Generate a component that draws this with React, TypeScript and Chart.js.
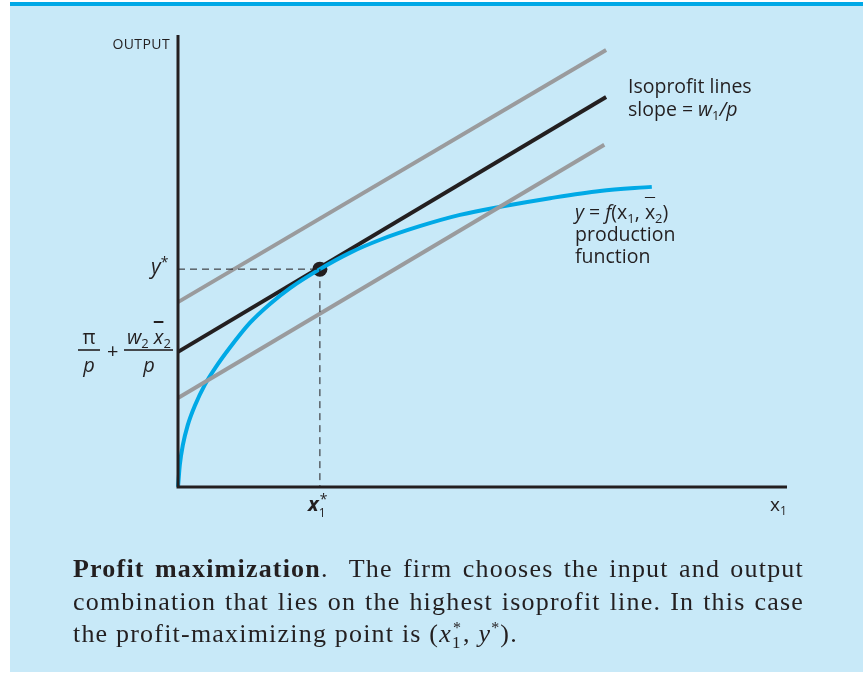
import React, { useEffect, useRef } from "react";
import { Chart, registerables } from "chart.js";
Chart.register(...registerables);

// Production function y = f(x1, x2bar) (arbitrary units 0..100)
const curveX = [0, 0.3, 0.8, 1.6, 2.8, 4.4, 6.1, 8.5, 11.8, 15.1, 18.4, 23.3, 28.2, 33.2, 39.7, 46.3, 52.9, 61.1, 69.3, 77.8];
const curveY = [0, 4.9, 9.3, 13.7, 18.1, 22.6, 26.3, 30.8, 36.3, 40.5, 44.0, 48.2, 51.8, 54.7, 57.7, 60.2, 62.0, 63.9, 65.5, 66.4];

// Isoprofit lines (start and end x, and y at those x)
const isoX = [0, 70.3];
const lowerIsoX = [0, 70.0];
const upperIsoY = [40.9, 96.7];
const middleIsoY = [29.9, 86.3];
const lowerIsoY = [19.7, 75.7];

// Optimum (x1*, y*)
const optimumX = [23.3];
const optimumY = [48.2];

const X_MAX = 100;
const Y_MAX = 100;

const INK = "#231f20";
const GRAY = "#9a9b9d";
const BLUE = "#00a9e6";

const pts = (xs: number[], ys: number[]) => xs.map((x, i) => ({ x, y: ys[i] }));

const axesPlugin = {
  id: "axesLines",
  afterDatasetsDraw(chart: any) {
    const { ctx, scales } = chart;
    const x0 = scales.x.getPixelForValue(0);
    const x1 = scales.x.getPixelForValue(X_MAX);
    const y0 = scales.y.getPixelForValue(0);
    const y1 = scales.y.getPixelForValue(Y_MAX);
    ctx.save();
    ctx.strokeStyle = INK;
    ctx.lineWidth = 3;
    ctx.beginPath();
    ctx.moveTo(x0, y1);
    ctx.lineTo(x0, y0 + 1.5);
    ctx.moveTo(x0 - 1.5, y0);
    ctx.lineTo(x1, y0);
    ctx.stroke();
    ctx.restore();
  },
};

function ChartCanvas() {
  const ref = useRef<HTMLCanvasElement | null>(null);
  useEffect(() => {
    if (!ref.current) return;
    const lineDs = (data: any[], color: string, width: number, extra: any = {}) => ({
      data,
      showLine: true,
      borderColor: color,
      backgroundColor: color,
      borderWidth: width,
      pointRadius: 0,
      fill: false,
      clip: false,
      ...extra,
    });
    const chart = new Chart(ref.current, {
      type: "scatter",
      data: {
        datasets: [
          lineDs([{ x: 0, y: optimumY[0] }, { x: optimumX[0], y: optimumY[0] }], INK, 1, { borderDash: [7, 5] }),
          lineDs([{ x: optimumX[0], y: optimumY[0] }, { x: optimumX[0], y: 0 }], INK, 1, { borderDash: [7, 5] }),
          lineDs(pts(isoX, upperIsoY), GRAY, 4),
          lineDs(pts(lowerIsoX, lowerIsoY), GRAY, 4),
          lineDs(pts(curveX, curveY), BLUE, 4, { cubicInterpolationMode: "monotone" }),
          lineDs(pts(isoX, middleIsoY), INK, 4),
          {
            data: pts(optimumX, optimumY),
            showLine: false,
            pointRadius: 7.5,
            pointBackgroundColor: INK,
            pointBorderColor: INK,
            pointBorderWidth: 0,
            clip: false,
          },
        ] as any,
      },
      options: {
        responsive: false,
        animation: false,
        events: [],
        layout: { padding: { left: 178, right: 76, top: 35, bottom: 187 } },
        plugins: { legend: { display: false }, tooltip: { enabled: false } },
        scales: {
          x: { type: "linear", min: 0, max: X_MAX, display: false },
          y: { type: "linear", min: 0, max: Y_MAX, display: false },
        },
      } as any,
      plugins: [axesPlugin],
    });
    return () => chart.destroy();
  }, []);
  return (
    <canvas
      ref={ref}
      width={863}
      height={674}
      style={{ position: "absolute", left: 0, top: 0, width: 863, height: 674 }}
    />
  );
}

const sans = "'Open Sans', 'DejaVu Sans', sans-serif";
const serif = "'Liberation Serif', 'DejaVu Serif', serif";

const abs = (left: number, top: number, extra: React.CSSProperties = {}): React.CSSProperties => ({
  position: "absolute",
  left,
  top,
  color: INK,
  fontFamily: sans,
  whiteSpace: "nowrap",
  lineHeight: 1,
  ...extra,
});

const Sub = ({ children, size = 12, dy = 4 }: { children: React.ReactNode; size?: number; dy?: number }) => (
  <span style={{ fontSize: size, position: "relative", top: dy, lineHeight: 0, fontStyle: "normal" }}>{children}</span>
);
const Sup = ({ children, size = 13, dy = -8 }: { children: React.ReactNode; size?: number; dy?: number }) => (
  <span style={{ fontSize: size, position: "relative", top: dy, lineHeight: 0, fontStyle: "normal" }}>{children}</span>
);

const Frac = ({ num, den, width }: { num: React.ReactNode; den: React.ReactNode; width: number }) => (
  <span style={{ display: "inline-flex", flexDirection: "column", alignItems: "center", width }}>
    <span style={{ lineHeight: "25px" }}>{num}</span>
    <span style={{ width: "100%", height: 1.5, background: INK, opacity: 0.8 }} />
    <span style={{ lineHeight: "27px" }}>{den}</span>
  </span>
);

const capLine: React.CSSProperties = {
  whiteSpace: "nowrap",
  height: 32.5,
};

export default function App() {
  return (
    <div style={{ position: "absolute", left: 0, top: 0, width: 863, height: 674, background: "#ffffff", overflow: "hidden" }}>
      <div
        style={{
          position: "absolute",
          left: 10,
          top: 2,
          width: 853,
          height: 670,
          background: "#c8e9f8",
          borderTop: "4px solid #00a8e6",
          boxSizing: "border-box",
        }}
      />
      <ChartCanvas />
      {/* axis labels */}
      <div style={abs(0, 37, { width: 170, textAlign: "right", fontSize: 14, letterSpacing: 0.4 })}>OUTPUT</div>
      <div style={abs(151, 256, { fontSize: 21, fontStyle: "italic" })}>
        y<Sup size={14} dy={-7}>*</Sup>
      </div>
      <div style={abs(78, 324, { fontSize: 20, display: "flex", alignItems: "center" })}>
        <Frac num={<span>π</span>} den={<span style={{ fontStyle: "italic" }}>p</span>} width={22} />
        <span style={{ margin: "0 6px 0 7px", fontSize: 20 }}>+</span>
        <Frac
          width={49}
          num={
            <span style={{ fontStyle: "italic" }}>
              w<Sub size={13}>2</Sub>
              <span style={{ marginLeft: 5, textDecoration: "overline", textDecorationThickness: 1.5 }}>x</span>
              <Sub size={13}>2</Sub>
            </span>
          }
          den={<span style={{ fontStyle: "italic" }}>p</span>}
        />
      </div>
      <div style={abs(308, 494, { fontSize: 20, fontStyle: "italic", fontWeight: 700 })}>
        x
        <span style={{ display: "inline-block", position: "relative", width: 10, height: 10 }}>
          <span style={{ fontSize: 12, fontStyle: "normal", fontWeight: 400, position: "absolute", left: 0, top: 6 }}>1</span>
          <span style={{ fontSize: 14, fontStyle: "normal", fontWeight: 400, position: "absolute", left: 1, top: -9 }}>*</span>
        </span>
      </div>
      <div style={abs(770, 495, { fontSize: 19 })}>
        x<Sub>1</Sub>
      </div>
      {/* annotations */}
      <div style={abs(628, 74, { fontSize: 19.5, lineHeight: "23px" })}>
        Isoprofit lines
        <br />
        slope = <span style={{ fontStyle: "italic" }}>w</span>
        <Sub size={13}>1</Sub>
        <span style={{ fontStyle: "italic" }}>/p</span>
      </div>
      <div style={abs(575, 201, { fontSize: 19.5, lineHeight: "22px" })}>
        <span style={{ fontStyle: "italic" }}>y</span> = <span style={{ fontStyle: "italic" }}>f</span>(x
        <Sub size={13}>1</Sub>,{" "}
        <span style={{ textDecoration: "overline" }}>x</span>
        <Sub size={13}>2</Sub>)
        <br />
        production
        <br />
        function
      </div>
      {/* caption */}
      <div
        style={{
          position: "absolute",
          left: 73,
          top: 553,
          width: 731,
          fontFamily: serif,
          fontSize: 26,
          lineHeight: "32.5px",
          letterSpacing: 1.2,
          color: INK,
        }}
      >
        <div style={{ ...capLine, textAlign: "justify", textAlignLast: "justify" }}>
          <b>Profit maximization</b>.&nbsp; The firm chooses the input and output
        </div>
        <div style={{ ...capLine, textAlign: "justify", textAlignLast: "justify" }}>
          combination that lies on the highest isoprofit line. In this case
        </div>
        <div style={capLine}>
          the profit-maximizing point is (<i>x</i>
          <span style={{ display: "inline-block", position: "relative", width: 11, height: 10, lineHeight: 1 }}>
            <span style={{ position: "absolute", left: 1, top: -12, fontSize: 16 }}>*</span>
            <span style={{ position: "absolute", left: 0, top: 2, fontSize: 17 }}>1</span>
          </span>
          , <i>y</i>
          <Sup size={16} dy={-9}>*</Sup>).
        </div>
      </div>
    </div>
  );
}
